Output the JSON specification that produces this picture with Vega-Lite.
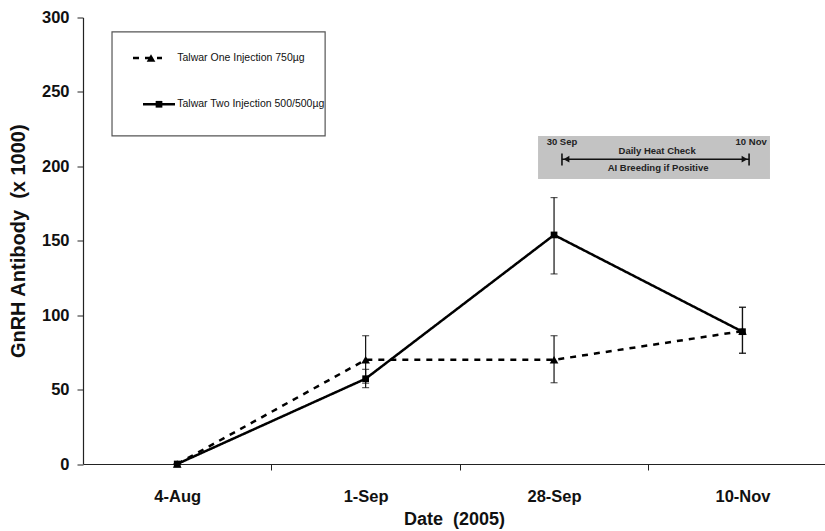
{
  "$schema": "https://vega.github.io/schema/vega-lite/v6.json",
  "width": 742,
  "height": 446.5,
  "autosize": {"type": "none"},
  "padding": {"left": 83, "top": 17.5, "right": 0, "bottom": 67},
  "background": "white",
  "config": {"view": {"stroke": null}, "font": "Liberation Sans"},
  "datasets": {
    "main": [
      {"series": "Talwar One Injection 750µg", "date": "4-Aug", "x": 0, "y": 0, "lo": 0, "hi": 0},
      {"series": "Talwar One Injection 750µg", "date": "1-Sep", "x": 1, "y": 70, "lo": 54.3, "hi": 86.2},
      {"series": "Talwar One Injection 750µg", "date": "28-Sep", "x": 2, "y": 70, "lo": 54.6, "hi": 86.2},
      {"series": "Talwar One Injection 750µg", "date": "10-Nov", "x": 3, "y": 89.3, "lo": 74.4, "hi": 105.3},
      {"series": "Talwar Two Injection 500/500µg", "date": "4-Aug", "x": 0, "y": 0, "lo": 0, "hi": 0},
      {"series": "Talwar Two Injection 500/500µg", "date": "1-Sep", "x": 1, "y": 57.3, "lo": 51.3, "hi": 63.6},
      {"series": "Talwar Two Injection 500/500µg", "date": "28-Sep", "x": 2, "y": 153.9, "lo": 127.7, "hi": 179},
      {"series": "Talwar Two Injection 500/500µg", "date": "10-Nov", "x": 3, "y": 88.9, "lo": 74.4, "hi": 105.3}
    ],
    "legendBox": [{"x": -0.346, "x2": 0.785, "y": 290.3, "y2": 220.4}],
    "legendItems": [
      {"series": "Talwar One Injection 750µg", "x": -0.2346, "x2": -0.0807, "xm": -0.139, "xt": 0.0, "y": 272.8},
      {"series": "Talwar Two Injection 500/500µg", "x": -0.1815, "x2": -0.0117, "xm": -0.0966, "xt": 0.0, "y": 241.7}
    ],
    "noteBox": [{"x": 1.915, "x2": 3.146, "y": 220.4, "y2": 191.5}],
    "noteLines": [
      {"x": 2.042, "x2": 3.035, "y": 204.8, "y2": 204.8},
      {"x": 2.042, "x2": 2.042, "y": 208.6, "y2": 200.5},
      {"x": 3.035, "x2": 3.035, "y": 208.6, "y2": 200.5}
    ],
    "noteLeft": [{"x": 2.066, "y": 204.8}],
    "noteRight": [{"x": 3.011, "y": 204.8}],
    "noteText": [
      {"x": 2.042, "y": 216.2, "text": "30 Sep"},
      {"x": 3.046, "y": 216.2, "text": "10 Nov"},
      {"x": 2.547, "y": 210.4, "text": "Daily Heat Check"},
      {"x": 2.552, "y": 198.6, "text": "AI Breeding if Positive"}
    ]
  },
  "encoding": {
    "x": {
      "field": "x",
      "type": "quantitative",
      "scale": {"domain": [-0.5, 3.438], "nice": false, "zero": false},
      "title": "Date \u00a0(2005)",
      "axis": {
        "values": [0, 0.5, 1, 1.5, 2, 2.5, 3],
        "labelExpr": "datum.value % 1 == 0 ? ['4-Aug','1-Sep','28-Sep','10-Nov'][datum.value] : ''",
        "tickOpacity": {"condition": {"test": "datum.value % 1 == 0", "value": 0}, "value": 1},
        "tickSize": 6,
        "tickColor": "#222",
        "domainColor": "#222",
        "domainWidth": 1.2,
        "grid": false,
        "labelFont": "Liberation Sans",
        "labelFontWeight": "bold",
        "labelFontSize": 16.5,
        "labelColor": "#111",
        "labelPadding": 18,
        "labelOverlap": false,
        "labelBound": false,
        "labelFlush": false,
        "titleFont": "Liberation Sans",
        "titleFontWeight": "bold",
        "titleFontSize": 18,
        "titleColor": "#111",
        "titlePadding": 6
      }
    },
    "y": {
      "field": "y",
      "type": "quantitative",
      "scale": {"domain": [0, 300], "nice": false, "zero": true},
      "title": "GnRH Antibody \u00a0(x 1000)",
      "axis": {
        "values": [0, 50, 100, 150, 200, 250, 300],
        "tickSize": 6,
        "tickColor": "#222",
        "domainColor": "#222",
        "domainWidth": 1.2,
        "grid": false,
        "labelFont": "Liberation Sans",
        "labelFontWeight": "bold",
        "labelFontSize": 16.5,
        "labelColor": "#111",
        "labelPadding": 8,
        "titleFont": "Liberation Sans",
        "titleFontWeight": "bold",
        "titleFontSize": 20,
        "titleColor": "#111",
        "titlePadding": 13
      }
    }
  },
  "layer": [
    {
      "data": {"name": "legendBox"},
      "mark": {"type": "rect", "fill": "white", "stroke": "#555", "strokeWidth": 1.2},
      "encoding": {"x2": {"field": "x2"}, "y2": {"field": "y2"}}
    },
    {
      "data": {"name": "noteBox"},
      "mark": {"type": "rect", "fill": "#c3c3c3", "stroke": null},
      "encoding": {"x2": {"field": "x2"}, "y2": {"field": "y2"}}
    },
    {
      "data": {"name": "noteLines"},
      "mark": {"type": "rule", "color": "#111", "strokeWidth": 1.6},
      "encoding": {"x2": {"field": "x2"}, "y2": {"field": "y2"}}
    },
    {
      "data": {"name": "noteLeft"},
      "mark": {"type": "point", "shape": "triangle-left", "filled": true, "color": "#111", "size": 45, "opacity": 1},
      "encoding": {}
    },
    {
      "data": {"name": "noteRight"},
      "mark": {"type": "point", "shape": "triangle-right", "filled": true, "color": "#111", "size": 45, "opacity": 1},
      "encoding": {}
    },
    {
      "data": {"name": "noteText"},
      "mark": {"type": "text", "font": "Liberation Sans", "fontWeight": "bold", "fontSize": 9.5, "color": "#222", "align": "center", "baseline": "middle"},
      "encoding": {"text": {"field": "text"}}
    },
    {
      "data": {"name": "main"},
      "mark": {"type": "errorbar", "ticks": true, "size": 7, "thickness": 1.2, "color": "#111"},
      "encoding": {
        "y": {"field": "lo", "type": "quantitative", "scale": {"domain": [0, 300], "nice": false, "zero": true}},
        "y2": {"field": "hi"}
      }
    },
    {
      "data": {"name": "main"},
      "mark": {"type": "line", "color": "black", "strokeWidth": 2.5},
      "encoding": {
        "detail": {"field": "series"},
        "strokeDash": {"field": "series", "type": "nominal", "scale": {"domain": ["Talwar One Injection 750µg", "Talwar Two Injection 500/500µg"], "range": [[6, 6], [1, 0]]}, "legend": null}
      }
    },
    {
      "data": {"name": "main"},
      "mark": {"type": "point", "filled": true, "color": "black", "opacity": 1},
      "encoding": {
        "shape": {"field": "series", "type": "nominal", "scale": {"domain": ["Talwar One Injection 750µg", "Talwar Two Injection 500/500µg"], "range": ["triangle-up", "square"]}, "legend": null},
        "size": {"field": "series", "type": "nominal", "scale": {"domain": ["Talwar One Injection 750µg", "Talwar Two Injection 500/500µg"], "range": [75, 45]}, "legend": null}
      }
    },
    {
      "data": {"name": "legendItems"},
      "mark": {"type": "rule", "color": "black", "strokeWidth": 2.5},
      "encoding": {
        "x2": {"field": "x2"},
        "strokeDash": {"field": "series", "type": "nominal", "legend": null}
      }
    },
    {
      "data": {"name": "legendItems"},
      "mark": {"type": "point", "filled": true, "color": "black", "opacity": 1},
      "encoding": {
        "x": {"field": "xm", "type": "quantitative", "scale": {"domain": [-0.5, 3.438], "nice": false, "zero": false}},
        "shape": {"field": "series", "type": "nominal", "legend": null},
        "size": {"field": "series", "type": "nominal", "legend": null}
      }
    },
    {
      "data": {"name": "legendItems"},
      "mark": {"type": "text", "font": "Liberation Sans", "fontSize": 10.5, "color": "#111", "align": "left", "baseline": "middle"},
      "encoding": {
        "x": {"field": "xt", "type": "quantitative", "scale": {"domain": [-0.5, 3.438], "nice": false, "zero": false}},
        "text": {"field": "series"}
      }
    }
  ]
}
